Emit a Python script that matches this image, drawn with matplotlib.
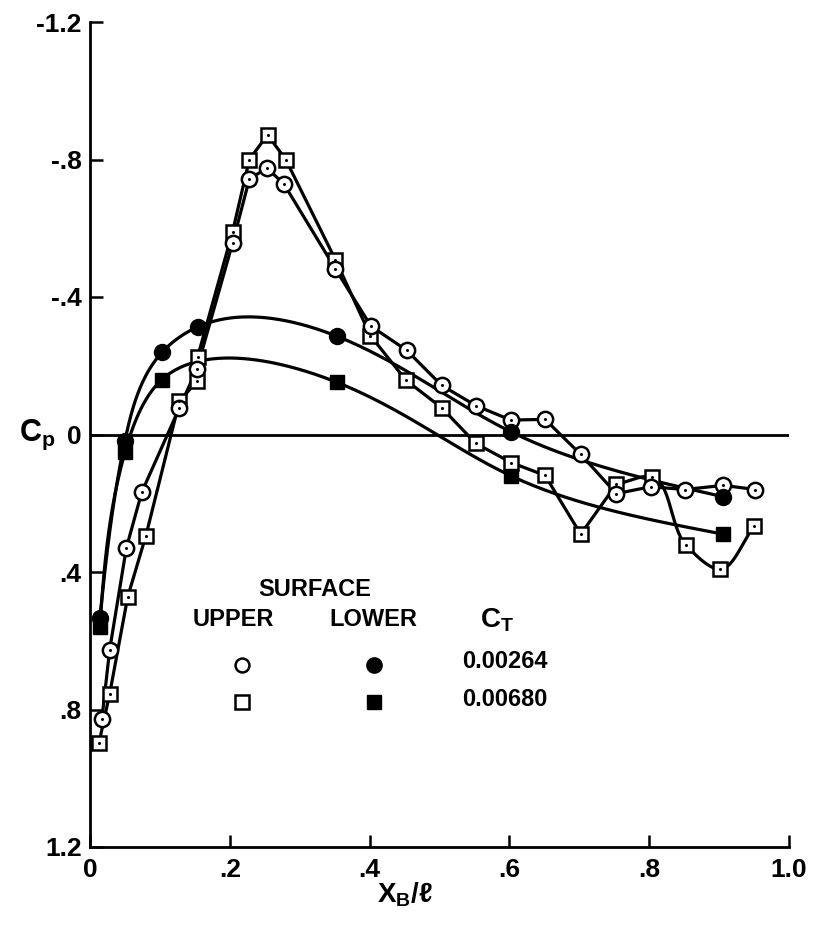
import numpy as np
import matplotlib
matplotlib.use("Agg")
import matplotlib.pyplot as plt

# ---------------- data ----------------
# Upper surface, C_T = 0.00264 (open circles)
up1_x = [0.017, 0.028, 0.052, 0.074, 0.128, 0.153, 0.204, 0.228, 0.253, 0.277, 0.351,
         0.402, 0.453, 0.503, 0.552, 0.602, 0.651, 0.702, 0.753, 0.802, 0.851, 0.906, 0.952]
up1_cp = [0.828, 0.628, 0.330, 0.168, -0.078, -0.191, -0.557, -0.743, -0.775, -0.730, -0.482,
          -0.315, -0.245, -0.143, -0.084, -0.042, -0.044, 0.058, 0.172, 0.152, 0.160, 0.148, 0.160]

# Upper surface, C_T = 0.00680 (open squares)
up2_x = [0.013, 0.028, 0.054, 0.080, 0.128, 0.153, 0.154, 0.204, 0.228, 0.254, 0.280, 0.351,
         0.401, 0.452, 0.503, 0.552, 0.603, 0.651, 0.702, 0.753, 0.804, 0.852, 0.902, 0.950]
up2_cp = [0.896, 0.756, 0.472, 0.294, -0.097, -0.155, -0.226, -0.590, -0.800, -0.872, -0.800, -0.509,
          -0.288, -0.158, -0.078, 0.026, 0.082, 0.119, 0.290, 0.145, 0.123, 0.320, 0.392, 0.267]

# Lower surface, C_T = 0.00264 (filled circles)
lo1_x = [0.014, 0.050, 0.103, 0.154, 0.353, 0.602, 0.906]
lo1_cp = [0.535, 0.018, -0.239, -0.313, -0.286, -0.008, 0.181]

# Lower surface, C_T = 0.00680 (filled squares)
lo2_x = [0.014, 0.050, 0.103, 0.353, 0.603, 0.906]
lo2_cp = [0.560, 0.052, -0.160, -0.152, 0.121, 0.290]

ct_labels = ["0.00264", "0.00680"]
x_ticks = [0.0, 0.2, 0.4, 0.6, 0.8, 1.0]
x_ticklabels = ["0", ".2", ".4", ".6", ".8", "1.0"]
y_ticks = [-1.2, -0.8, -0.4, 0.0, 0.4, 0.8, 1.2]
y_ticklabels = ["-1.2", "-.8", "-.4", "0", ".4", ".8", "1.2"]


def catmull_rom(xs, ys, n=40, alpha=0.5):
    """Centripetal Catmull-Rom curve through the given points (for drawing a faired line)."""
    P = np.column_stack([xs, ys]).astype(float)
    P = np.vstack([2 * P[0] - P[1], P, 2 * P[-1] - P[-2]])
    out = []
    for i in range(1, len(P) - 2):
        p0, p1, p2, p3 = P[i - 1], P[i], P[i + 1], P[i + 2]
        t0 = 0.0
        t1 = t0 + np.linalg.norm(p1 - p0) ** alpha
        t2 = t1 + np.linalg.norm(p2 - p1) ** alpha
        t3 = t2 + np.linalg.norm(p3 - p2) ** alpha
        t = np.linspace(t1, t2, n)[:, None]
        A1 = (t1 - t) / (t1 - t0) * p0 + (t - t0) / (t1 - t0) * p1
        A2 = (t2 - t) / (t2 - t1) * p1 + (t - t1) / (t2 - t1) * p2
        A3 = (t3 - t) / (t3 - t2) * p2 + (t - t2) / (t3 - t2) * p3
        B1 = (t2 - t) / (t2 - t0) * A1 + (t - t0) / (t2 - t0) * A2
        B2 = (t3 - t) / (t3 - t1) * A2 + (t - t1) / (t3 - t1) * A3
        C = (t2 - t) / (t2 - t1) * B1 + (t - t1) / (t2 - t1) * B2
        out.append(C)
    C = np.vstack(out)
    return C[:, 0], C[:, 1]


def param_spline(xs, ys, n=60):
    """Natural cubic spline through the points, parametrised by chord length."""
    P = np.column_stack([xs, ys]).astype(float)
    # scale y to roughly the same visual units as x
    S = P * np.array([1.0, 0.5])
    d = np.sqrt(((S[1:] - S[:-1]) ** 2).sum(axis=1))
    t = np.concatenate([[0], np.cumsum(d)])
    m = len(t)
    h = np.diff(t)
    res = []
    for k in range(2):
        yk = P[:, k]
        A = np.zeros((m, m))
        b = np.zeros(m)
        A[0, 0] = A[-1, -1] = 1.0
        for i in range(1, m - 1):
            A[i, i - 1] = h[i - 1]
            A[i, i] = 2 * (h[i - 1] + h[i])
            A[i, i + 1] = h[i]
            b[i] = 6 * ((yk[i + 1] - yk[i]) / h[i] - (yk[i] - yk[i - 1]) / h[i - 1])
        M = np.linalg.solve(A, b)
        vals = []
        for i in range(m - 1):
            tt = np.linspace(t[i], t[i + 1], n)
            a = (t[i + 1] - tt) / h[i]
            bb = (tt - t[i]) / h[i]
            v = (a * yk[i] + bb * yk[i + 1]
                 + ((a ** 3 - a) * M[i] + (bb ** 3 - bb) * M[i + 1]) * h[i] ** 2 / 6)
            vals.append(v)
        res.append(np.concatenate(vals))
    return res[0], res[1]


plt.rcParams['font.family'] = ['Liberation Sans', 'DejaVu Sans']
plt.rcParams['font.weight'] = 'bold'
plt.rcParams['mathtext.fontset'] = 'custom'
plt.rcParams['mathtext.rm'] = 'Liberation Sans:bold'
plt.rcParams['mathtext.bf'] = 'Liberation Sans:bold'
plt.rcParams['mathtext.it'] = 'Liberation Sans:bold'

fig = plt.figure(figsize=(8.14, 9.32), dpi=100)
ax = fig.add_axes([90 / 814, (932 - 847) / 932, (789 - 90) / 814, (847 - 22) / 932])
ax.set_xlim(0, 1.0)
ax.set_ylim(1.2, -1.2)

LW = 2.3
ax.axhline(0, color='black', lw=2.0, zorder=1)

# lines
ax.plot(up1_x, up1_cp, color='black', lw=LW, zorder=2)
ax.plot(up2_x[:-4], up2_cp[:-4], color='black', lw=LW, zorder=2)
tx, ty = catmull_rom(up2_x[-5:], up2_cp[-5:])
ax.plot(tx, ty, color='black', lw=LW, zorder=2)
cx, cy = param_spline(lo1_x, lo1_cp)
ax.plot(cx, cy, color='black', lw=LW, zorder=2)
cx, cy = param_spline(lo2_x, lo2_cp)
ax.plot(cx, cy, color='black', lw=LW, zorder=2)

MS = 10.5
MEW = 1.8
ax.plot(up2_x, up2_cp, 's', ms=MS, mfc='white', mec='black', mew=MEW, zorder=3, clip_on=False)
ax.plot(up1_x, up1_cp, 'o', ms=MS + 0.5, mfc='white', mec='black', mew=MEW, zorder=4, clip_on=False)
ax.plot(up1_x + up2_x, up1_cp + up2_cp, 'o', ms=2.2, color='black', mew=0, zorder=5)
ax.plot(lo1_x, lo1_cp, 'o', ms=MS + 1, color='black', zorder=4, clip_on=False)
ax.plot(lo2_x, lo2_cp, 's', ms=MS, color='black', zorder=4, clip_on=False)

# axes styling
for s in ['top', 'right']:
    ax.spines[s].set_visible(False)
ax.spines['left'].set_linewidth(2.0)
ax.spines['bottom'].set_linewidth(2.0)
ax.set_xticks(x_ticks)
ax.set_xticklabels(x_ticklabels)
ax.set_yticks(y_ticks)
ax.set_yticklabels(y_ticklabels)
ax.tick_params(direction='in', length=9, width=1.8, labelsize=19, pad=6)
ax.tick_params(axis='x', pad=8)
for lab in ax.get_xticklabels() + ax.get_yticklabels():
    lab.set_fontweight('bold')

ax.text(-0.075, 0.0, r'$\mathbf{C_p}$', fontsize=22, ha='center', va='center',
        transform=ax.transData)
fig.text(405 / 814, 1 - 895 / 932, r'$\mathbf{X_B}$' + '/' + r'$\ell$', fontsize=20,
         ha='center', va='center')

# legend block
def px(xp, yp):
    return xp / 814, 1 - yp / 932

fs = 17
fig.text(*px(315, 590), 'SURFACE', fontsize=fs, fontweight='bold', ha='center', va='center')
fig.text(*px(233, 620), 'UPPER', fontsize=fs, fontweight='bold', ha='center', va='center')
fig.text(*px(373, 620), 'LOWER', fontsize=fs, fontweight='bold', ha='center', va='center')
fig.text(*px(497, 620), r'$\mathbf{C_T}$', fontsize=fs + 3, ha='center', va='center')
fig.text(*px(505, 662), ct_labels[0], fontsize=fs, fontweight='bold', ha='center', va='center')
fig.text(*px(505, 700), ct_labels[1], fontsize=fs, fontweight='bold', ha='center', va='center')
lx = [242 / 814, 374 / 814]
fig.lines.append(plt.Line2D([lx[0]], [1 - 665 / 932], marker='o', ms=10, mfc='white',
                            mec='black', mew=1.8, transform=fig.transFigure))
fig.lines.append(plt.Line2D([lx[1]], [1 - 665 / 932], marker='o', ms=11, color='black',
                            transform=fig.transFigure))
fig.lines.append(plt.Line2D([lx[0]], [1 - 702 / 932], marker='s', ms=10, mfc='white',
                            mec='black', mew=1.8, transform=fig.transFigure))
fig.lines.append(plt.Line2D([lx[1]], [1 - 702 / 932], marker='s', ms=10, color='black',
                            transform=fig.transFigure))

fig.savefig('out.png', dpi=100)
